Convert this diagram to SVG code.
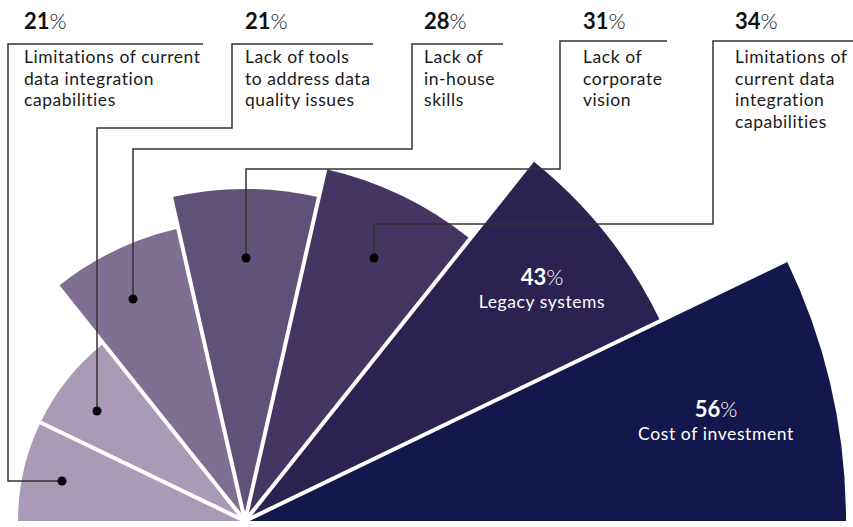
<svg xmlns="http://www.w3.org/2000/svg" width="853" height="527" viewBox="0 0 853 527">
  <style>
    .num { font-family: Lato, "Liberation Sans", sans-serif; font-size: 22px; font-weight: 700; fill: #111; }
    .pct { font-weight: 300; }
    .lbl { font-family: Lato, "Liberation Sans", sans-serif; font-size: 17.5px; letter-spacing: 0.55px; fill: #1a1a1a; }
    .in-num { font-family: Lato, "Liberation Sans", sans-serif; font-size: 22px; font-weight: 700; fill: #fff; text-anchor: middle; }
    .in-lbl { font-family: Lato, "Liberation Sans", sans-serif; font-size: 17.5px; letter-spacing: 0.6px; fill: #fff; text-anchor: middle; }
    .sep { stroke: #fff; stroke-width: 4; }
    .lead { fill: none; stroke: #333; stroke-width: 1.5; }
    .dot { fill: #000; }
  </style>
  <rect width="853" height="527" fill="#fff"/>

  <g id="slice-1">
    <path d="M245,521 L18,521 A227,227 0 0,1 40.48,422.51 Z" fill="#a99bb5"/>
  </g>
  <g id="slice-2">
    <path d="M245,521 L40.48,422.51 A227,227 0 0,1 103.47,343.52 Z" fill="#a99bb5"/>
  </g>
  <g id="slice-3">
    <path d="M245,521 L57.95,286.45 A300,300 0 0,1 178.24,228.52 Z" fill="#7e6f93"/>
  </g>
  <g id="slice-4">
    <path d="M245,521 L171.12,197.32 A332,332 0 0,1 318.88,197.32 Z" fill="#5f5178"/>
  </g>
  <g id="slice-5">
    <path d="M245,521 L325.33,169.05 A361,361 0 0,1 470.08,238.76 Z" fill="#443562"/>
  </g>
  <g id="slice-6">
    <path d="M245,521 L532.43,160.58 A461,461 0 0,1 660.35,320.98 Z" fill="#2b2252"/>
    <text class="in-num" x="542" y="285">43<tspan class="pct">%</tspan></text>
    <text class="in-lbl" x="542" y="308">Legacy systems</text>
  </g>
  <g id="slice-7">
    <path d="M245,521 L786.48,260.24 A601,601 0 0,1 846,521 Z" fill="#14174b"/>
    <text class="in-num" x="716" y="417">56<tspan class="pct">%</tspan></text>
    <text class="in-lbl" x="716" y="440">Cost of investment</text>
  </g>

  <g id="separators">
    <line class="sep" x1="245" y1="521" x2="40.48" y2="422.51"/>
    <line class="sep" x1="245" y1="521" x2="57.95" y2="286.45"/>
    <line class="sep" x1="245" y1="521" x2="171.12" y2="197.32"/>
    <line class="sep" x1="245" y1="521" x2="325.33" y2="169.05"/>
    <line class="sep" x1="245" y1="521" x2="532.43" y2="160.58"/>
    <line class="sep" x1="245" y1="521" x2="786.48" y2="260.24"/>
  </g>

  <g id="label-1">
    <text class="num" x="24" y="29">21<tspan class="pct">%</tspan></text>
    <text class="lbl" x="24" y="63">Limitations of current</text>
    <text class="lbl" x="24" y="84.5">data integration</text>
    <text class="lbl" x="24" y="106">capabilities</text>
  </g>
  <g id="label-2">
    <text class="num" x="245" y="29">21<tspan class="pct">%</tspan></text>
    <text class="lbl" x="245" y="63">Lack of tools</text>
    <text class="lbl" x="245" y="84.5">to address data</text>
    <text class="lbl" x="245" y="106">quality issues</text>
  </g>
  <g id="label-3">
    <text class="num" x="424" y="29">28<tspan class="pct">%</tspan></text>
    <text class="lbl" x="424" y="63">Lack of</text>
    <text class="lbl" x="424" y="84.5">in-house</text>
    <text class="lbl" x="424" y="106">skills</text>
  </g>
  <g id="label-4">
    <text class="num" x="583" y="29">31<tspan class="pct">%</tspan></text>
    <text class="lbl" x="583" y="63">Lack of</text>
    <text class="lbl" x="583" y="84.5">corporate</text>
    <text class="lbl" x="583" y="106">vision</text>
  </g>
  <g id="label-5">
    <text class="num" x="735" y="29">34<tspan class="pct">%</tspan></text>
    <text class="lbl" x="735" y="63">Limitations of</text>
    <text class="lbl" x="735" y="84.5">current data</text>
    <text class="lbl" x="735" y="106">integration</text>
    <text class="lbl" x="735" y="127.5">capabilities</text>
  </g>

  <g id="connectors">
    <path class="lead" d="M203,44 H8 V481 H62"/>
    <path class="lead" d="M373,44 H232 V128 H97 V411"/>
    <path class="lead" d="M503,44 H412 V149 H133 V299"/>
    <path class="lead" d="M667,41 H560 V169 H246 V258"/>
    <path class="lead" d="M853,41 H713 V224 H374 V258"/>
    <circle class="dot" cx="62" cy="481" r="4.5"/>
    <circle class="dot" cx="97" cy="411" r="4.5"/>
    <circle class="dot" cx="133" cy="299" r="4.5"/>
    <circle class="dot" cx="246" cy="258" r="4.5"/>
    <circle class="dot" cx="374" cy="258" r="4.5"/>
  </g>
</svg>
